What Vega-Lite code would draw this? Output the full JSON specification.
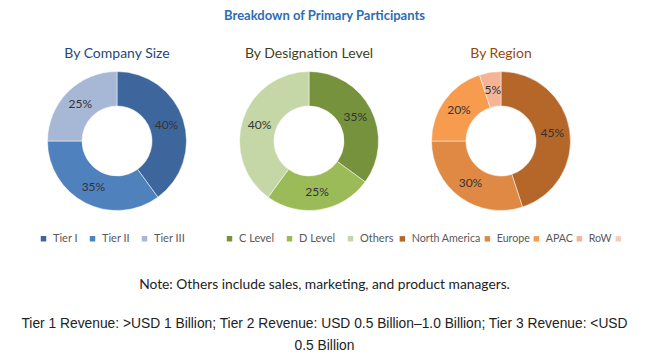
{
  "$schema": "https://vega.github.io/schema/vega-lite/v6.json",
  "background": "white",
  "padding": {"left": 21, "top": 9, "right": 5, "bottom": 3},
  "title": {"text": "Breakdown of Primary Participants", "font": "Lato", "fontSize": 13, "fontWeight": "bold", "color": "#2E6DB4", "anchor": "middle", "offset": 24},
  "datasets": {
    "parts": [
      {"panel": "size", "segment": "Tier I", "pct": 40, "ord": 1, "label": "40%"},
      {"panel": "size", "segment": "Tier II", "pct": 35, "ord": 2, "label": "35%"},
      {"panel": "size", "segment": "Tier III", "pct": 25, "ord": 3, "label": "25%"},
      {"panel": "designation", "segment": "C Level", "pct": 35, "ord": 1, "label": "35%"},
      {"panel": "designation", "segment": "D Level", "pct": 25, "ord": 2, "label": "25%"},
      {"panel": "designation", "segment": "Others", "pct": 40, "ord": 3, "label": "40%"},
      {"panel": "region", "segment": "North America", "pct": 45, "ord": 1, "label": "45%"},
      {"panel": "region", "segment": "Europe", "pct": 30, "ord": 2, "label": "30%"},
      {"panel": "region", "segment": "APAC", "pct": 20, "ord": 3, "label": "20%"},
      {"panel": "region", "segment": "RoW", "pct": 5, "ord": 4, "label": "5%"}
    ]
  },
  "vconcat": [
    {
      "hconcat": [
        {
          "width": 192, "height": 140,
          "title": {"text": "By Company Size", "color": "#1F497D"},
          "data": {"name": "parts"},
          "transform": [{"filter": "datum.panel == 'size'"}],
          "layer": [
            {
              "mark": {"type": "arc", "innerRadius": 35, "outerRadius": 69.5, "stroke": "white", "strokeWidth": 0.5},
              "encoding": {
                "theta": {"field": "pct", "type": "quantitative", "stack": true},
                "order": {"field": "ord", "type": "quantitative"},
                "color": {"field": "segment", "type": "nominal",
                  "scale": {"domain": ["Tier I", "Tier II", "Tier III"], "range": ["#3D679C", "#4F81BD", "#A7B7D6"]},
                  "legend": {"orient": "none", "legendX": 17, "legendY": 162, "direction": "horizontal", "title": null, "columnPadding": 9}}
              }
            },
            {
              "mark": {"type": "text", "radius": 52, "font": "Lato", "fontSize": 12, "color": "#333333"},
              "encoding": {
                "theta": {"field": "pct", "type": "quantitative", "stack": true},
                "order": {"field": "ord", "type": "quantitative"},
                "detail": {"field": "segment", "type": "nominal"},
                "text": {"field": "label", "type": "nominal"}
              }
            }
          ]
        },
        {
          "width": 192, "height": 140,
          "title": {"text": "By Designation Level", "color": "#3F3F22"},
          "data": {"name": "parts"},
          "transform": [{"filter": "datum.panel == 'designation'"}],
          "layer": [
            {
              "mark": {"type": "arc", "innerRadius": 35, "outerRadius": 69.5, "stroke": "white", "strokeWidth": 0.5},
              "encoding": {
                "theta": {"field": "pct", "type": "quantitative", "stack": true},
                "order": {"field": "ord", "type": "quantitative"},
                "color": {"field": "segment", "type": "nominal",
                  "scale": {"domain": ["C Level", "D Level", "Others"], "range": ["#76923C", "#9BBB59", "#C5D7A6"]},
                  "legend": {"orient": "none", "legendX": 11, "legendY": 162, "direction": "horizontal", "title": null, "columnPadding": 9}}
              }
            },
            {
              "mark": {"type": "text", "radius": 52, "font": "Lato", "fontSize": 12, "color": "#333333"},
              "encoding": {
                "theta": {"field": "pct", "type": "quantitative", "stack": true},
                "order": {"field": "ord", "type": "quantitative"},
                "detail": {"field": "segment", "type": "nominal"},
                "text": {"field": "label", "type": "nominal"}
              }
            }
          ]
        },
        {
          "width": 192, "height": 140,
          "title": {"text": "By Region", "color": "#984807"},
          "data": {"name": "parts"},
          "transform": [{"filter": "datum.panel == 'region'"}],
          "layer": [
            {
              "mark": {"type": "arc", "innerRadius": 35, "outerRadius": 69.5, "stroke": "white", "strokeWidth": 0.5},
              "encoding": {
                "theta": {"field": "pct", "type": "quantitative", "stack": true},
                "order": {"field": "ord", "type": "quantitative"},
                "color": {"field": "segment", "type": "nominal",
                  "scale": {"domain": ["North America", "Europe", "APAC", "RoW", " "], "range": ["#B5672A", "#DF8944", "#F79B4E", "#F6B496", "#F8CBBE"]},
                  "legend": {"orient": "none", "legendX": -8, "legendY": 162, "direction": "horizontal", "title": null, "columnPadding": 1, "labelFontSize": 10.7}}
              }
            },
            {
              "mark": {"type": "text", "radius": 52, "font": "Lato", "fontSize": 12, "color": "#333333"},
              "encoding": {
                "theta": {"field": "pct", "type": "quantitative", "stack": true},
                "order": {"field": "ord", "type": "quantitative"},
                "detail": {"field": "segment", "type": "nominal"},
                "text": {"field": "label", "type": "nominal"}
              }
            }
          ]
        }
      ],
      "spacing": 0,
      "bounds": "flush",
      "resolve": {"scale": {"color": "independent", "theta": "independent"}}
    },
    {
      "width": 607, "height": 39,
      "data": {"values": [
        {"line": "note", "text": "Note: Others include sales, marketing, and product managers."},
        {"line": "tier", "text": "Tier 1 Revenue: >USD 1 Billion; Tier 2 Revenue: USD 0.5 Billion\u20131.0 Billion; Tier 3 Revenue: <USD\n0.5 Billion"}
      ]},
      "encoding": {
        "y": {"field": "line", "type": "nominal", "axis": null, "scale": {"type": "point", "domain": ["note", "tier"], "padding": 0}},
        "text": {"field": "text", "type": "nominal"}
      },
      "layer": [
        {
          "transform": [{"filter": "datum.line == 'note'"}],
          "mark": {"type": "text", "font": "Lato", "fontSize": 13.8, "color": "#222222", "baseline": "middle"}
        },
        {
          "transform": [{"filter": "datum.line == 'tier'"}],
          "mark": {"type": "text", "font": "Liberation Sans", "fontSize": 13.8, "color": "#222222", "baseline": "middle", "lineBreak": "\n", "lineHeight": 22}
        }
      ]
    }
  ],
  "spacing": 34,
  "config": {
    "view": {"stroke": null},
    "title": {"font": "Lato", "fontSize": 14, "fontWeight": "normal", "offset": 10},
    "legend": {"symbolType": "square", "symbolSize": 30, "symbolStrokeWidth": 0, "labelFont": "Lato", "labelFontSize": 11, "labelColor": "#595959", "labelOffset": 4}
  }
}
